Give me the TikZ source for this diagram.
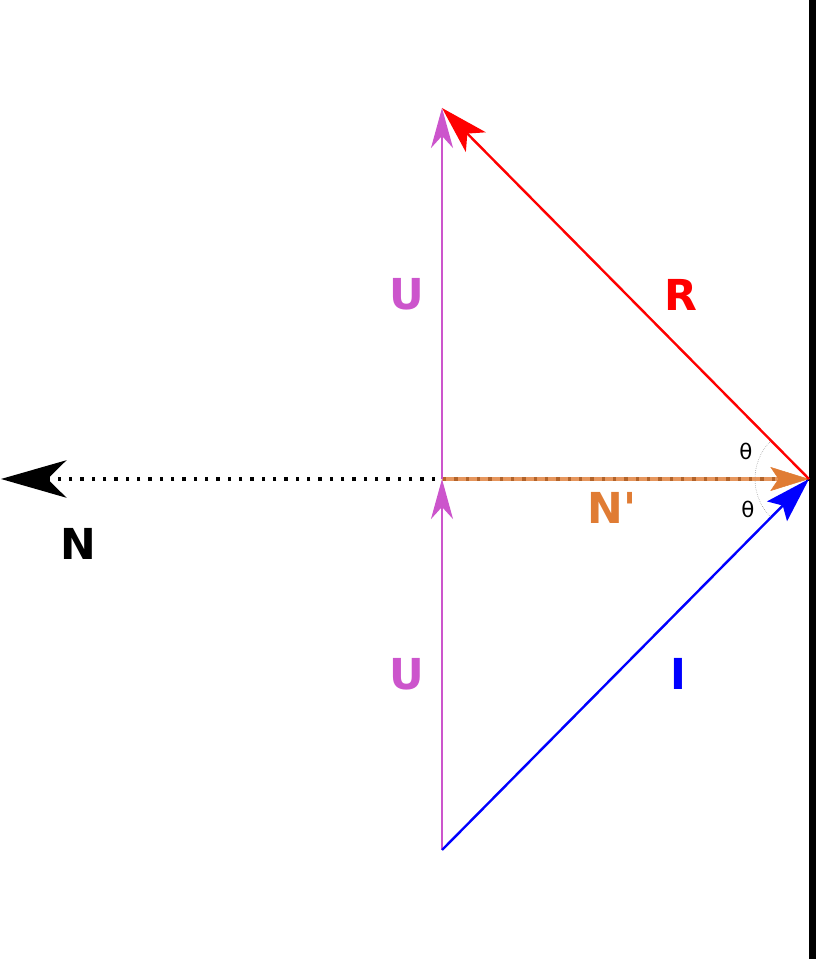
\documentclass[tikz,border=0pt]{standalone}
\usepackage{fontspec}
\setmainfont{DejaVu Sans}
\usepackage{xcolor}
\usetikzlibrary{arrows.meta}
\definecolor{umag}{HTML}{CC55CC}
\definecolor{norange}{HTML}{E07C34}

\begin{document}
\begin{tikzpicture}[x=0.75pt,y=0.75pt,
  vlabel/.style={anchor=base,font=\bfseries\fontsize{32}{36}\selectfont},
  anglabel/.style={anchor=base,font=\fontsize{16}{18}\selectfont}]
\useasboundingbox (0,0) rectangle (816,959);
\coordinate (O) at (442,480);
\coordinate (B) at (442,109);
\coordinate (T) at (442,851);
\coordinate (P) at (809,480);
\coordinate (Ntip) at (1,480);
\path (O) -- (P) coordinate[pos=0.97] (Pa);

%wall
\fill[black] (809,0) rectangle (816,959);

%normal
\draw[line width=2.6pt,dash pattern=on 2.6pt off 5.9pt,-{Stealth[length=49pt,width=28pt,inset=14pt]}] (P)--(Ntip);
\draw[norange,opacity=0.8,line width=2.4pt] (O)--(Pa);
\draw[norange,-{Stealth[length=29pt,width=18pt,inset=6pt]}] (Pa)--(P);

%U vectors
\draw[umag,line width=1.5pt,-{Stealth[length=30pt,width=16.5pt,inset=9pt]}] (B)--(O);
\draw[umag,line width=1.5pt,-{Stealth[length=30pt,width=16.5pt,inset=9pt]}] (O)--(T);

%incident and reflected
\draw[blue,line width=1.8pt,-{Stealth[length=34pt,width=21pt,inset=6pt]}] (B)--(P);
\draw[red,line width=1.8pt,-{Stealth[length=36pt,width=21pt,inset=9pt]}] (P)--(T);

%angles
\draw[gray,line width=0.4pt,densely dotted] ([shift={(135:40.5pt)}]P) arc[start angle=135,end angle=225,radius=40.5pt];

\node[vlabel,umag] (Utop) at (407,649) {U};
\node[vlabel,umag] (Ubot) at (407,269) {U};
\node[vlabel,red] (Rlab) at (681,648) {R};
\node[vlabel,blue] (Ilab) at (678,269) {I};
\node[vlabel,black] (Nlab) at (78,399) {N};
\node[vlabel,norange] (Nplab) at (612,435) {N\textquotesingle};
\node[anglabel] (thup) at (746,499) {θ};
\node[anglabel] (thdn) at (748,441) {θ};
\end{tikzpicture}
\end{document}
